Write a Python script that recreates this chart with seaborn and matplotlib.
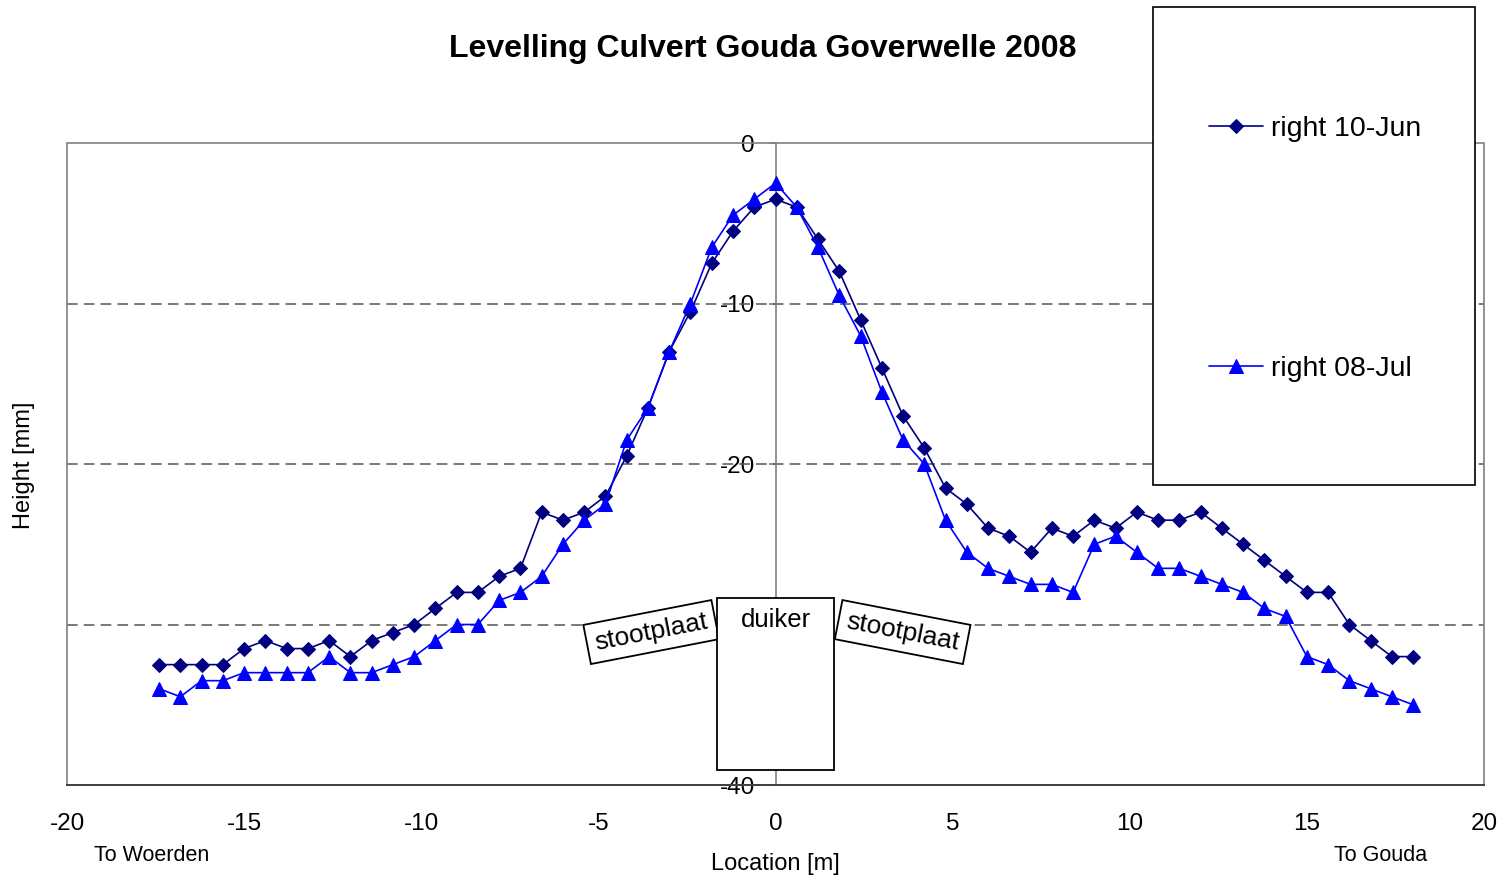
import matplotlib
matplotlib.use('Agg')
import matplotlib.pyplot as plt
from matplotlib.patches import Rectangle
import seaborn as sns

# --- data ---
location = [-17.4, -16.8, -16.2, -15.6, -15.0, -14.4, -13.8, -13.2, -12.6, -12.0,
            -11.4, -10.8, -10.2, -9.6, -9.0, -8.4, -7.8, -7.2, -6.6, -6.0,
            -5.4, -4.8, -4.2, -3.6, -3.0, -2.4, -1.8, -1.2, -0.6, 0.0,
            0.6, 1.2, 1.8, 2.4, 3.0, 3.6, 4.2, 4.8, 5.4, 6.0,
            6.6, 7.2, 7.8, 8.4, 9.0, 9.6, 10.2, 10.8, 11.4, 12.0,
            12.6, 13.2, 13.8, 14.4, 15.0, 15.6, 16.2, 16.8, 17.4, 18.0]

height_jun = [-32.5, -32.5, -32.5, -32.5, -31.5, -31.0, -31.5, -31.5, -31.0, -32.0,
              -31.0, -30.5, -30.0, -29.0, -28.0, -28.0, -27.0, -26.5, -23.0, -23.5,
              -23.0, -22.0, -19.5, -16.5, -13.0, -10.5, -7.5, -5.5, -4.0, -3.5,
              -4.0, -6.0, -8.0, -11.0, -14.0, -17.0, -19.0, -21.5, -22.5, -24.0,
              -24.5, -25.5, -24.0, -24.5, -23.5, -24.0, -23.0, -23.5, -23.5, -23.0,
              -24.0, -25.0, -26.0, -27.0, -28.0, -28.0, -30.0, -31.0, -32.0, -32.0]

height_jul = [-34.0, -34.5, -33.5, -33.5, -33.0, -33.0, -33.0, -33.0, -32.0, -33.0,
              -33.0, -32.5, -32.0, -31.0, -30.0, -30.0, -28.5, -28.0, -27.0, -25.0,
              -23.5, -22.5, -18.5, -16.5, -13.0, -10.0, -6.5, -4.5, -3.5, -2.5,
              -4.0, -6.5, -9.5, -12.0, -15.5, -18.5, -20.0, -23.5, -25.5, -26.5,
              -27.0, -27.5, -27.5, -28.0, -25.0, -24.5, -25.5, -26.5, -26.5, -27.0,
              -27.5, -28.0, -29.0, -29.5, -32.0, -32.5, -33.5, -34.0, -34.5, -35.0]

x_ticks = [-20, -15, -10, -5, 0, 5, 10, 15, 20]
y_ticks = [0, -10, -20, -30, -40]
# the -30 label sits behind the culvert box in the original
y_ticklabels = ['0', '-10', '-20', '', '-40']

sns.set_style("white")
plt.rcParams['font.family'] = ['Liberation Sans', 'DejaVu Sans']
plt.rcParams['axes.unicode_minus'] = False
plt.rcParams['text.color'] = 'black'
plt.rcParams['xtick.labelcolor'] = 'black'
plt.rcParams['ytick.labelcolor'] = 'black'

fig = plt.figure(figsize=(15.04, 8.80), dpi=100)
ax = fig.add_axes([0.04455, 0.10795, 0.94215, 0.72955])

sns.lineplot(x=location, y=height_jun, ax=ax, color='#000080', marker='D',
             markersize=7.5, markeredgecolor='#000080', linewidth=1.2,
             label='right 10-Jun', sort=False, errorbar=None, zorder=3)
sns.lineplot(x=location, y=height_jul, ax=ax, color='#0000FF', marker='^',
             markersize=9.5, markeredgecolor='#0000FF', linewidth=1.2,
             label='right 08-Jul', sort=False, errorbar=None, zorder=3)

ax.set_xlim(-20, 20)
ax.set_ylim(-40, 0)
ax.set_xticks(x_ticks)
ax.set_yticks(y_ticks)
ax.set_yticklabels(y_ticklabels)
ax.set_xlabel('')
ax.set_ylabel('')

# dashed horizontal gridlines
for yv in y_ticks[1:-1]:
    ax.axhline(yv, color='#555555', linewidth=1.1, linestyle=(0, (7, 4)), zorder=1)

# plot frame (gray), y axis through x = 0
ax.add_patch(Rectangle((0, 0), 1, 1, transform=ax.transAxes, fill=False,
                       edgecolor='#808080', linewidth=1.2, zorder=1.5, clip_on=False))
ax.spines['top'].set_visible(False)
ax.spines['right'].set_visible(False)
ax.spines['left'].set_position(('data', 0))
ax.spines['left'].set_color('#808080')
ax.spines['left'].set_linewidth(1.2)
ax.spines['bottom'].set_color('#404040')
ax.spines['bottom'].set_linewidth(1.4)

ax.tick_params(axis='x', direction='out', length=6, width=1.2, color='#404040',
               labelsize=17.5, pad=14)
ax.tick_params(axis='y', direction='out', length=5, width=1.2, color='#808080',
               labelsize=17.5, pad=10, left=True)

# culvert sketch
ax.add_patch(Rectangle((-1.65, -39.07), 3.3, 10.72, facecolor='white',
                       edgecolor='black', linewidth=1.3, zorder=5, clip_on=False))
ax.text(0, -29.7, 'duiker', ha='center', va='center', fontsize=18.5, zorder=6)
box = dict(boxstyle='square,pad=0.3', facecolor='white', edgecolor='black', linewidth=1.3)
ax.text(-3.51, -30.47, 'stootplaat', ha='center', va='center', fontsize=19,
        rotation=11, rotation_mode='anchor', bbox=box, zorder=4)
ax.text(3.59, -30.47, 'stootplaat', ha='center', va='center', fontsize=19,
        rotation=-11, rotation_mode='anchor', bbox=box, zorder=4)

# titles and labels
fig.text(763 / 1504, 1 - 49 / 880, 'Levelling Culvert Gouda Goverwelle 2008',
         ha='center', va='center', fontsize=23, fontweight='bold')
fig.text(775 / 1504, 1 - 864 / 880, 'Location [m]', ha='center', va='center', fontsize=17)
fig.text(152 / 1504, 1 - 855 / 880, 'To Woerden', ha='center', va='center', fontsize=15.5)
fig.text(1381 / 1504, 1 - 855 / 880, 'To Gouda', ha='center', va='center', fontsize=15.5)
fig.text(24 / 1504, 1 - 465 / 880, 'Height [mm]', ha='center', va='center',
         rotation=90, fontsize=17)

# legend in a tall white box that overlaps the plot area
handles, labels = ax.get_legend_handles_labels()
ax.get_legend().remove()
fig.patches.append(Rectangle((1153 / 1504, 1 - 485 / 880), 322 / 1504, 478 / 880,
                             transform=fig.transFigure, facecolor='white',
                             edgecolor='black', linewidth=1.2, zorder=1))
fig.legend(handles, labels, loc='center', bbox_to_anchor=(1315 / 1504, 1 - 249 / 880),
           frameon=False, fontsize=20.5, labelspacing=7.5, handlelength=1.9,
           handletextpad=0.3, borderpad=0)

fig.savefig('out.png', dpi=100)
